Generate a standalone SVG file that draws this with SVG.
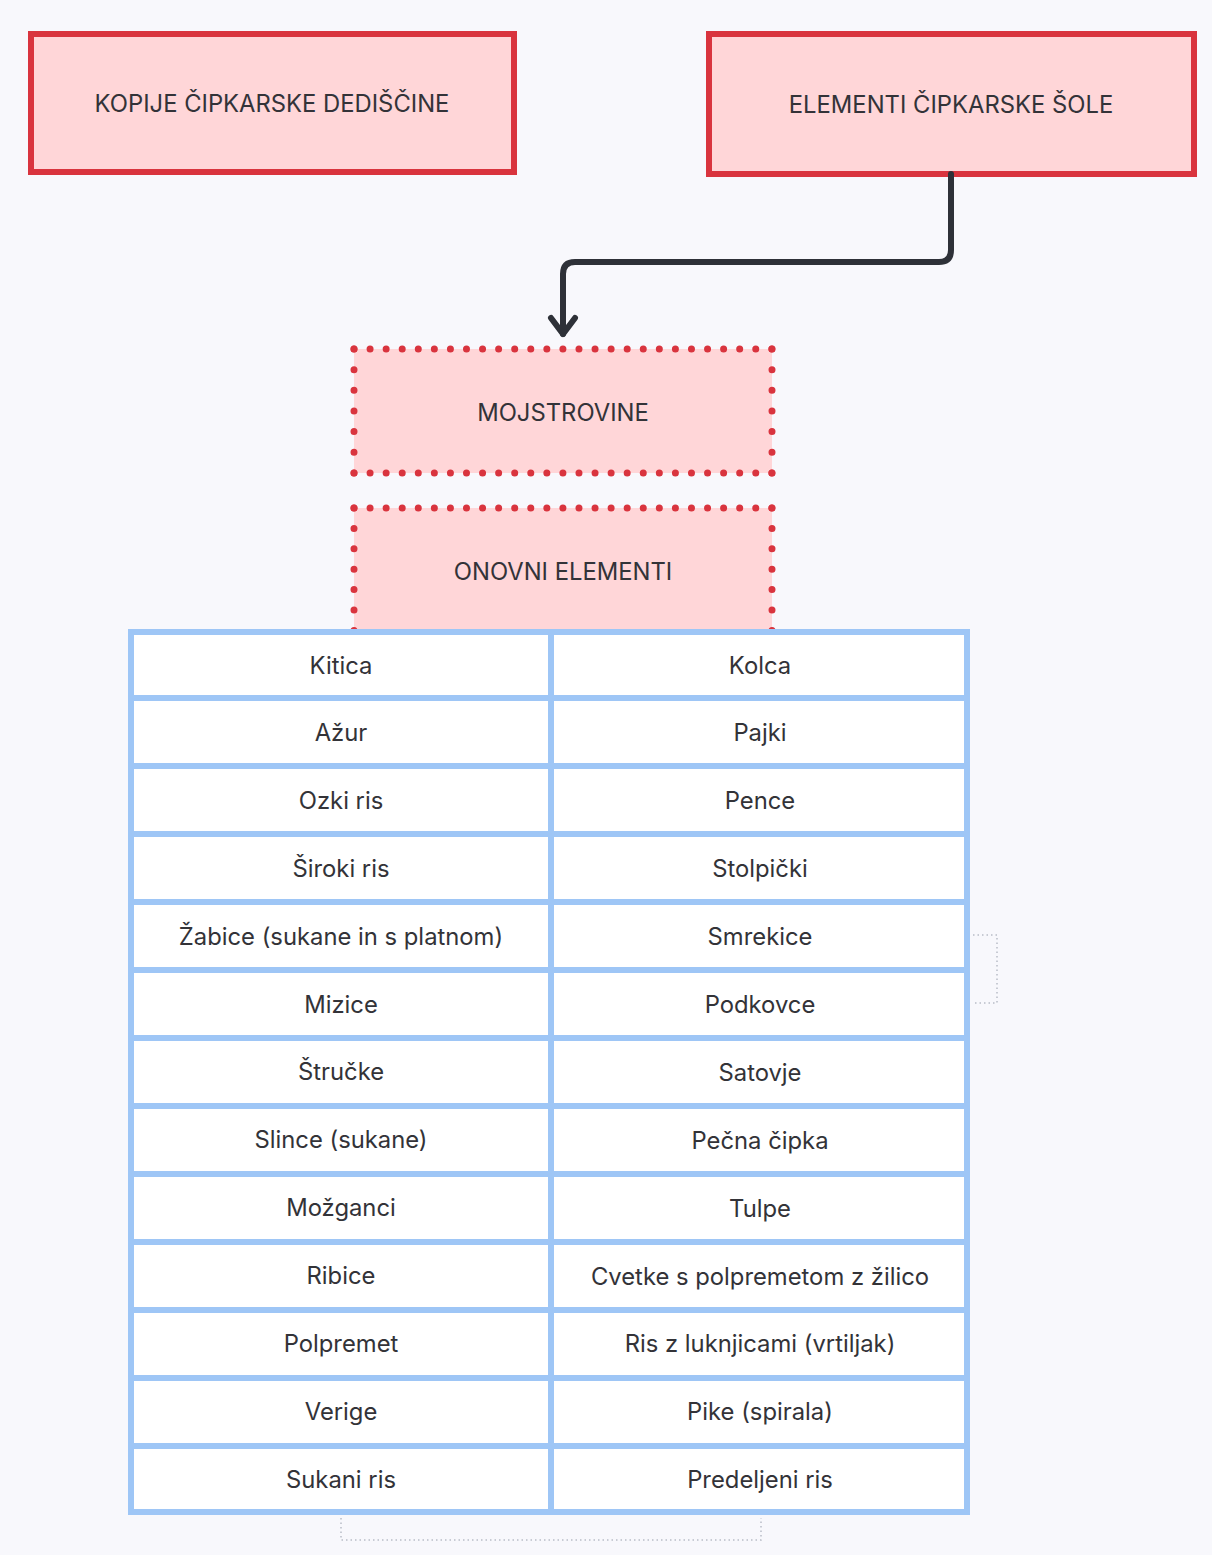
<svg xmlns="http://www.w3.org/2000/svg" width="1212" height="1555" viewBox="0 0 1212 1555">
<defs>
<style>
.bg{fill:#f8f8fc}
.red{fill:#ffd6d8;stroke:#d9343e;stroke-width:6}
.dotbox{fill:#ffd6d8}
.dot{fill:none;stroke:#d9343e;stroke-width:7;stroke-linecap:round}
.cell{fill:#ffffff;stroke:#9ec6f6;stroke-width:6}
.t{font-family:Inter,"Noto Sans","Liberation Sans",sans-serif;font-size:23.8px;fill:#333338;text-anchor:middle;dominant-baseline:central}
.conn{fill:none;stroke:#2e3138;stroke-width:6;stroke-linejoin:round;stroke-linecap:round}
.faint{fill:none;stroke:#b8bcc6;stroke-width:1.5;stroke-dasharray:1.5 3}
</style>
</defs>
<rect class="bg" x="0" y="0" width="1212" height="1555"/>

<g id="node-kopije">
<rect class="red" x="31" y="34" width="483" height="138"/>
<text class="t" x="272" y="103">KOPIJE ČIPKARSKE DEDIŠČINE</text>
</g>

<g id="node-elementi">
<rect class="red" x="709" y="34" width="485" height="140"/>
<text class="t" x="951" y="104">ELEMENTI ČIPKARSKE ŠOLE</text>
</g>

<g id="node-mojstrovine">
<rect class="dotbox" x="354" y="349" width="418" height="124"/>
<path class="dot" stroke-dasharray="0 16.07" d="M354,349 H772.1 M354,473 H772.1"/>
<path class="dot" stroke-dasharray="0 20.65" d="M354,349 V473.1 M772,349 V473.1"/>
<text class="t" x="563" y="412">MOJSTROVINE</text>
</g>

<g id="node-onovni">
<rect class="dotbox" x="354" y="508" width="418" height="124"/>
<path class="dot" stroke-dasharray="0 16.07" d="M354,508 H772.1"/>
<path class="dot" stroke-dasharray="0 20.4" d="M354,508 V632 M772,508 V632"/>
<text class="t" x="563" y="571">ONOVNI ELEMENTI</text>
</g>

<g id="connectors">
<path class="conn" d="M951,174 V250 Q951,262 939,262 H575 Q563,262 563,274 V334"/>
<polyline class="conn" points="551,318 563,334 575,318"/>
<path class="faint" d="M973,935 H997 V1003 H973"/>
<path class="faint" d="M341,1518 V1540 H761 V1518"/>
</g>

<g id="table">
<g id="row1"><rect class="cell" x="131" y="632" width="420" height="66"/><text class="t" x="341" y="665">Kitica</text><rect class="cell" x="551" y="632" width="416" height="66"/><text class="t" x="760" y="665">Kolca</text></g>
<g id="row2"><rect class="cell" x="131" y="698" width="420" height="68"/><text class="t" x="341" y="732">Ažur</text><rect class="cell" x="551" y="698" width="416" height="68"/><text class="t" x="760" y="732">Pajki</text></g>
<g id="row3"><rect class="cell" x="131" y="766" width="420" height="68"/><text class="t" x="341" y="800">Ozki ris</text><rect class="cell" x="551" y="766" width="416" height="68"/><text class="t" x="760" y="800">Pence</text></g>
<g id="row4"><rect class="cell" x="131" y="834" width="420" height="68"/><text class="t" x="341" y="868">Široki ris</text><rect class="cell" x="551" y="834" width="416" height="68"/><text class="t" x="760" y="868">Stolpički</text></g>
<g id="row5"><rect class="cell" x="131" y="902" width="420" height="68"/><text class="t" x="341" y="936">Žabice (sukane in s platnom)</text><rect class="cell" x="551" y="902" width="416" height="68"/><text class="t" x="760" y="936">Smrekice</text></g>
<g id="row6"><rect class="cell" x="131" y="970" width="420" height="68"/><text class="t" x="341" y="1004">Mizice</text><rect class="cell" x="551" y="970" width="416" height="68"/><text class="t" x="760" y="1004">Podkovce</text></g>
<g id="row7"><rect class="cell" x="131" y="1038" width="420" height="68"/><text class="t" x="341" y="1071">Štručke</text><rect class="cell" x="551" y="1038" width="416" height="68"/><text class="t" x="760" y="1072">Satovje</text></g>
<g id="row8"><rect class="cell" x="131" y="1106" width="420" height="68"/><text class="t" x="341" y="1139">Slince (sukane)</text><rect class="cell" x="551" y="1106" width="416" height="68"/><text class="t" x="760" y="1140">Pečna čipka</text></g>
<g id="row9"><rect class="cell" x="131" y="1174" width="420" height="68"/><text class="t" x="341" y="1207">Možganci</text><rect class="cell" x="551" y="1174" width="416" height="68"/><text class="t" x="760" y="1208">Tulpe</text></g>
<g id="row10"><rect class="cell" x="131" y="1242" width="420" height="68"/><text class="t" x="341" y="1275">Ribice</text><rect class="cell" x="551" y="1242" width="416" height="68"/><text class="t" x="760" y="1276">Cvetke s polpremetom z žilico</text></g>
<g id="row11"><rect class="cell" x="131" y="1310" width="420" height="68"/><text class="t" x="341" y="1343">Polpremet</text><rect class="cell" x="551" y="1310" width="416" height="68"/><text class="t" x="760" y="1343">Ris z luknjicami (vrtiljak)</text></g>
<g id="row12"><rect class="cell" x="131" y="1378" width="420" height="68"/><text class="t" x="341" y="1411">Verige</text><rect class="cell" x="551" y="1378" width="416" height="68"/><text class="t" x="760" y="1411">Pike (spirala)</text></g>
<g id="row13"><rect class="cell" x="131" y="1446" width="420" height="66"/><text class="t" x="341" y="1479">Sukani ris</text><rect class="cell" x="551" y="1446" width="416" height="66"/><text class="t" x="760" y="1479">Predeljeni ris</text></g>
</g>
</svg>
